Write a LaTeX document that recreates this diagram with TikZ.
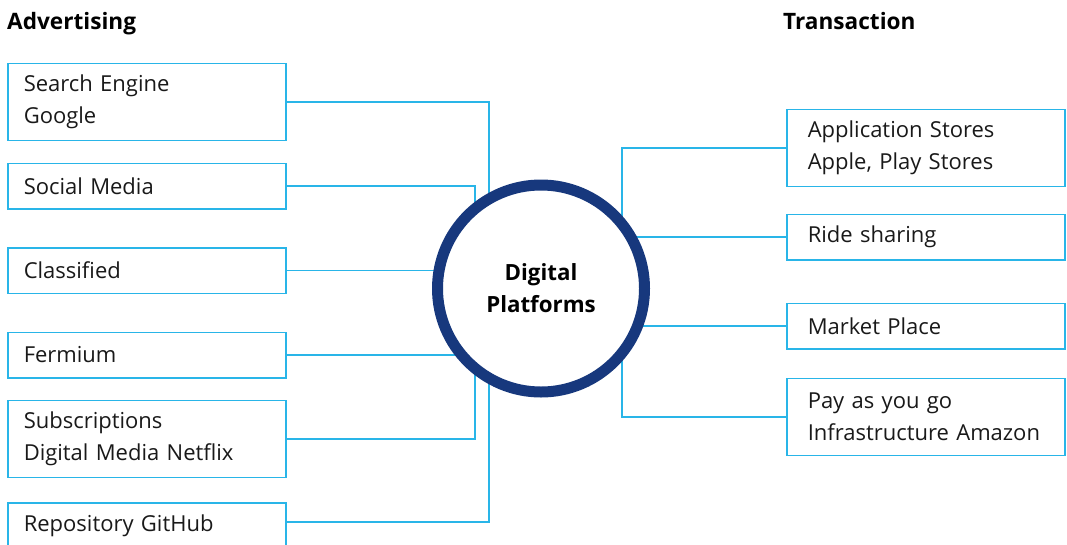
\documentclass[tikz,border=0pt]{standalone}
\usepackage{fontspec}
\setmainfont{Open Sans}
\usetikzlibrary{backgrounds}
\definecolor{lineblue}{HTML}{29B5E8}
\definecolor{navy}{HTML}{17387D}
\tikzset{
  x=1pt,y=-1pt,
  box/.style={draw=lineblue,line width=1.5pt,anchor=north west,minimum width=278pt,
    text width=246pt,inner xsep=16pt,inner ysep=0pt,align=left,
    font=\fontsize{22}{32}\selectfont,text=black!90},
  rbox/.style={box,text width=236pt,inner xsep=21pt},
  tall/.style={minimum height=77pt},
  short/.style={minimum height=45.5pt},
  conn/.style={draw=lineblue,line width=1.5pt},
  header/.style={anchor=base west,font=\fontsize{22.6}{26}\selectfont\bfseries,inner sep=0pt},
  hub/.style={circle,draw=navy,line width=11pt,fill=white,minimum size=207pt,
    align=center,font=\fontsize{22.3}{32}\selectfont\bfseries,inner sep=0pt}
}
\begin{document}
\begin{tikzpicture}
\useasboundingbox (0,0) rectangle (1067,544);
\clip (0,0) rectangle (1067,544);
\node[header] (hadv) at (7,29) {Advertising};
\node[header] (htr) at (783,29) {Transaction};

\node[box,tall] (b1) at (7,62.5) {Search Engine\\Google};
\node[box,short] (b2) at (7,162.5) {Social Media};
\node[box,short] (b3) at (7,247) {Classified};
\node[box,short] (b4) at (7,331.5) {Fermium};
\node[box,tall] (b5) at (7,399.5) {Subscriptions\\Digital Media Netflix};
\node[box,minimum height=46pt] (b6) at (7,502) {Repository GitHub};

\node[rbox,tall] (r1) at (786,108.5) {Application Stores\\Apple, Play Stores};
\node[rbox,short] (r2) at (786,213.5) {Ride sharing};
\node[rbox,short] (r3) at (786,302.5) {Market Place};
\node[rbox,tall] (r4) at (786,377.5) {Pay as you go\\Infrastructure Amazon};

\node[hub] (c) at (541,288.5) {Digital\\Platforms};

\begin{pgfonlayer}{background}
\coordinate (jl1) at (489,0);
\coordinate (jl2) at (475,0);
\coordinate (jr) at (622,0);
\coordinate (e6) at ([yshift=4pt]b6.east);
\draw[conn] (b1.east) -| (jl1 |- e6) -- (e6);
\draw[conn] (b2.east) -| (jl2 |- b5.east) -- (b5.east);
\draw[conn] (b3.east) -- (b3.east -| c.center);
\draw[conn] (b4.east) -- (b4.east -| c.center);
\draw[conn] (r1.west) -| (jr |- r4.west) -- (r4.west);
\draw[conn] (r2.west) -- (r2.west -| c.center);
\draw[conn] (r3.west) -- (r3.west -| c.center);
\end{pgfonlayer}
\end{tikzpicture}
\end{document}
